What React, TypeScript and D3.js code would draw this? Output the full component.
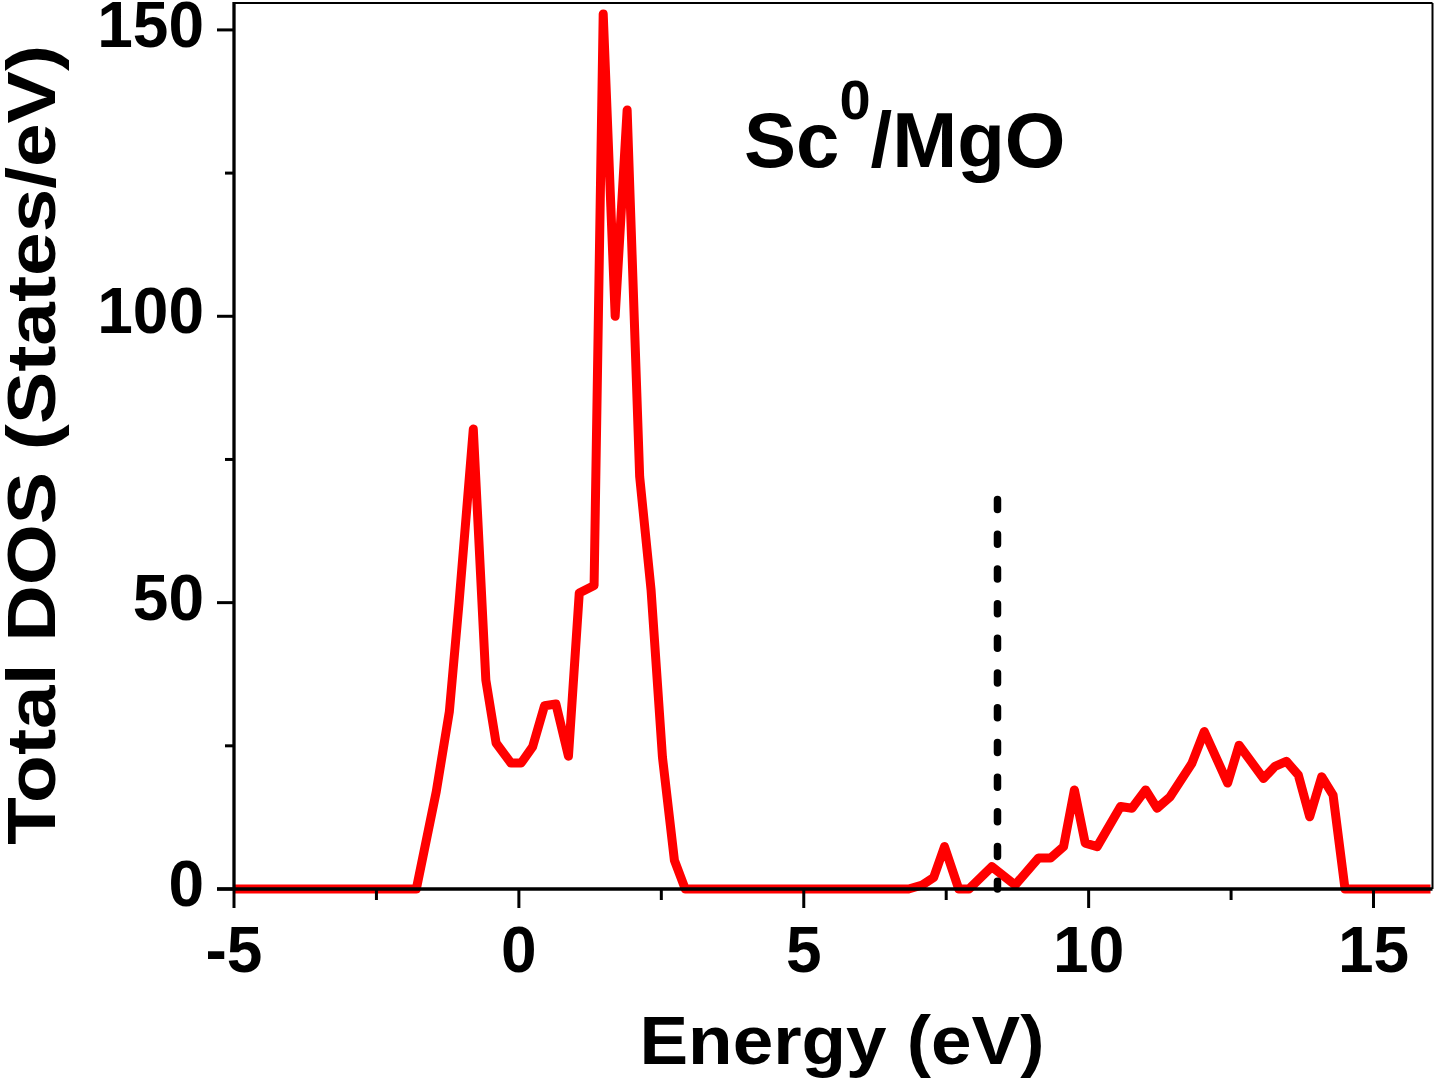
import React, { useEffect, useRef } from "react";
import * as d3 from "d3";

// Total density of states for Sc0 on MgO
const energy = [
  -5, -1.8, -1.45, -1.22, -1.05, -0.8, -0.58, -0.4, -0.14, 0.04, 0.24, 0.45,
  0.65, 0.87, 1.06, 1.32, 1.48, 1.69, 1.9, 2.12, 2.32, 2.52, 2.73, 2.92, 6.84,
  7.08, 7.28, 7.47, 7.72, 7.9, 8.3, 8.71, 9.12, 9.33, 9.56, 9.75, 9.94, 10.15,
  10.56, 10.76, 11.0, 11.2, 11.43, 11.81, 12.03, 12.44, 12.64, 13.07, 13.27,
  13.47, 13.68, 13.88, 14.09, 14.29, 14.5, 16,
];
const dos = [
  0, 0, 17, 31, 50, 80.3, 36.5, 25.5, 22, 22, 24.8, 32, 32.3, 23.2, 51.7, 53,
  152.8, 100, 136, 72, 52.2, 23, 5, 0, 0, 0.7, 2, 7.4, 0, 0, 3.9, 0.7, 5.4, 5.4,
  7.4, 17.3, 8, 7.4, 14.4, 14.1, 17.3, 14.1, 16.1, 21.9, 27.5, 18.5, 25.1, 19.3,
  21.4, 22.3, 19.9, 12.6, 19.6, 16.4, 0, 0,
];

// Fermi level marker
const fermiEnergy = 8.4;
const fermiTop = 68;

const xMajorTicks = [-5, 0, 5, 10, 15];
const xMinorTicks = [-2.5, 2.5, 7.5, 12.5];
const yMajorTicks = [0, 50, 100, 150];
const yMinorTicks = [25, 75, 125];

const xDomain = [-5, 16];
const yDomain = [0, 154.7];

export default function App() {
  const ref = useRef<SVGSVGElement>(null);

  useEffect(() => {
    const svg = d3.select(ref.current);
    svg.selectAll("*").remove();

    const left = 234;
    const right = 1430.5;
    const top = 3;
    const bottom = 889;
    const x = d3.scaleLinear().domain(xDomain).range([left, right]);
    const y = d3.scaleLinear().domain(yDomain).range([bottom, top]);
    const font = "'Liberation Sans', Arial, sans-serif";

    // frame (top and right)
    svg.append("line").attr("x1", left).attr("x2", right + 2).attr("y1", top).attr("y2", top)
      .attr("stroke", "#000").attr("stroke-width", 2);
    svg.append("line").attr("x1", right + 2).attr("x2", right + 2).attr("y1", top).attr("y2", bottom)
      .attr("stroke", "#000").attr("stroke-width", 2);

    // data line
    const line = d3
      .line<number>()
      .x((_, i) => x(energy[i]))
      .y((d) => y(d));
    svg.append("path")
      .attr("d", line(dos) as string)
      .attr("fill", "none")
      .attr("stroke", "#ff0000")
      .attr("stroke-width", 9)
      .attr("stroke-linejoin", "round")
      .attr("stroke-linecap", "butt");

    // Fermi level
    svg.append("line")
      .attr("x1", x(fermiEnergy)).attr("x2", x(fermiEnergy))
      .attr("y1", y(fermiTop)).attr("y2", y(0))
      .attr("stroke", "#000").attr("stroke-width", 7.5)
      .attr("stroke-linecap", "round")
      .attr("stroke-dasharray", "10 24.7");

    // axes
    const xAxis = svg.append("g");
    xAxis.append("line").attr("x1", left - 17).attr("x2", right + 2).attr("y1", bottom).attr("y2", bottom)
      .attr("stroke", "#000").attr("stroke-width", 3.5);
    xAxis.selectAll(".maj").data(xMajorTicks).enter().append("line")
      .attr("x1", (d) => x(d)).attr("x2", (d) => x(d))
      .attr("y1", bottom).attr("y2", bottom + 19)
      .attr("stroke", "#000").attr("stroke-width", 3);
    xAxis.selectAll(".min").data(xMinorTicks).enter().append("line")
      .attr("x1", (d) => x(d)).attr("x2", (d) => x(d))
      .attr("y1", bottom).attr("y2", bottom + 11)
      .attr("stroke", "#000").attr("stroke-width", 3);
    xAxis.selectAll("text").data(xMajorTicks).enter().append("text")
      .attr("x", (d) => x(d)).attr("y", 972)
      .attr("text-anchor", "middle")
      .attr("font-family", font).attr("font-weight", "bold").attr("font-size", 64)
      .text((d) => String(d));

    const yAxis = svg.append("g");
    yAxis.append("line").attr("x1", left).attr("x2", left).attr("y1", top - 1).attr("y2", bottom)
      .attr("stroke", "#000").attr("stroke-width", 3.3);
    yAxis.selectAll(".maj").data(yMajorTicks).enter().append("line")
      .attr("x1", left - 17).attr("x2", left)
      .attr("y1", (d) => y(d)).attr("y2", (d) => y(d))
      .attr("stroke", "#000").attr("stroke-width", 3);
    yAxis.selectAll(".min").data(yMinorTicks).enter().append("line")
      .attr("x1", left - 9).attr("x2", left)
      .attr("y1", (d) => y(d)).attr("y2", (d) => y(d))
      .attr("stroke", "#000").attr("stroke-width", 3);
    yAxis.selectAll("text").data(yMajorTicks).enter().append("text")
      .attr("x", 204).attr("y", (d) => y(d) + 17)
      .attr("text-anchor", "end")
      .attr("font-family", font).attr("font-weight", "bold").attr("font-size", 64)
      .text((d) => String(d));

    // axis titles
    svg.append("text")
      .attr("x", 842).attr("y", 1064)
      .attr("text-anchor", "middle")
      .attr("font-family", font).attr("font-weight", "bold").attr("font-size", 68)
      .attr("textLength", 405).attr("lengthAdjust", "spacingAndGlyphs")
      .text("Energy (eV)");
    svg.append("text")
      .attr("transform", "translate(55,445) rotate(-90)")
      .attr("text-anchor", "middle")
      .attr("font-family", font).attr("font-weight", "bold").attr("font-size", 68)
      .attr("textLength", 800).attr("lengthAdjust", "spacingAndGlyphs")
      .text("Total DOS (States/eV)");

    // system label
    const label = svg.append("text")
      .attr("x", 744).attr("y", 167)
      .attr("font-family", font).attr("font-weight", "bold").attr("font-size", 78);
    label.append("tspan").text("Sc");
    label.append("tspan").attr("font-size", 56).attr("dy", -48).text("0");
    label.append("tspan").attr("dy", 48).text("/MgO");
  }, []);

  return (
    <svg
      ref={ref}
      width={1444}
      height={1084}
      style={{ position: "absolute", left: 0, top: 0, background: "#fff" }}
    />
  );
}
